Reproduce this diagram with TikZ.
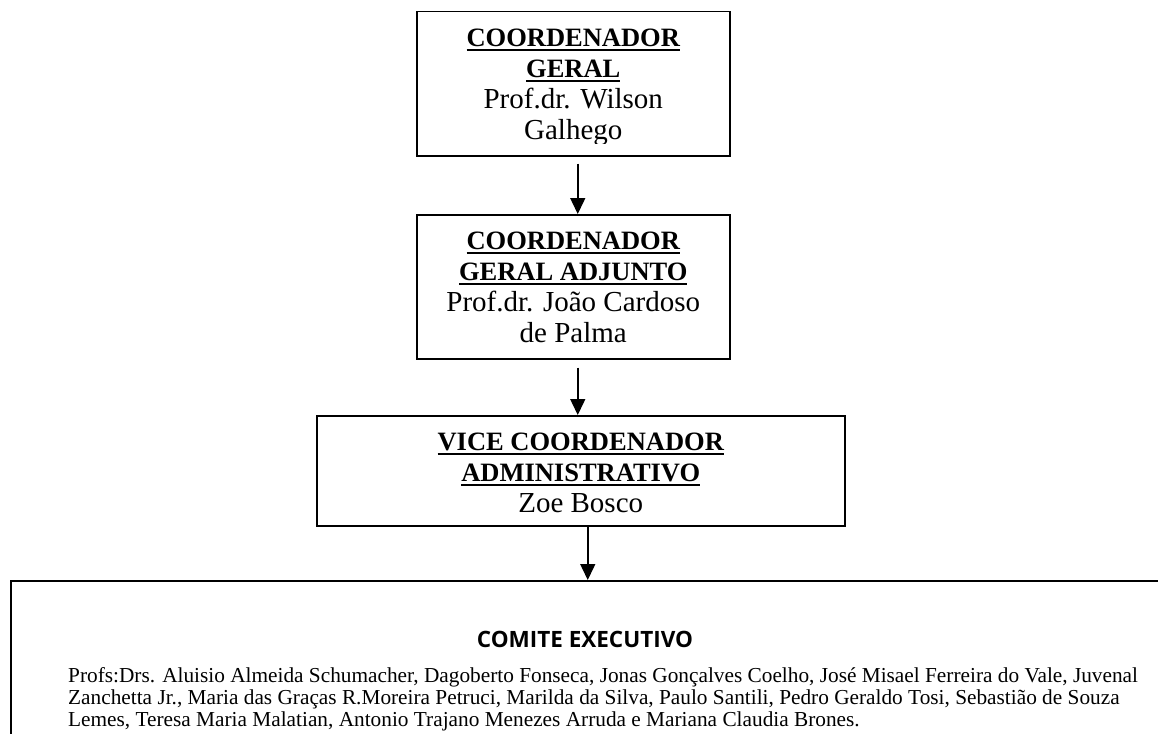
\documentclass[tikz,border=0pt]{standalone}
\usepackage{fontspec}
\setmainfont{Liberation Serif}
\newfontfamily\comitefont{Open Sans}
\usetikzlibrary{arrows.meta,positioning}

% underlined title line
\newcommand{\titleline}[1]{\setbox0\hbox{#1}\rlap{\rule[-4pt]{\wd0}{1.7pt}}\box0}

\tikzset{
  orgbox/.style={draw, line width=1.5pt, inner sep=0pt, anchor=north west},
  orgtext/.style={align=center, inner sep=0pt, font=\fontsize{29}{31}\selectfont},
  flow/.style={line width=1.5pt, -{Triangle[length=16pt,width=15pt]}},
}

\begin{document}
\begin{tikzpicture}[x=1pt,y=-1pt]
\useasboundingbox (0,0) rectangle (1158,733);
\clip (0,0) rectangle (1158,733);

% boxes
\node[orgbox, minimum width=313pt, minimum height=144pt] (geral) at (416,11) {};
\node[orgbox, minimum width=313pt, minimum height=144pt] (adjunto) at (416,214) {};
\node[orgbox, minimum width=528pt, minimum height=110pt] (vice) at (316,415) {};
\node[orgbox, minimum width=1300pt, minimum height=300pt] (comite) at (10,580) {};

% box texts
\begin{scope}
\clip (geral.north west) rectangle ([yshift=13pt]geral.south east);
\node[orgtext, below=18pt of geral.north] (geraltext)
  {\titleline{\bfseries\fontsize{26.5}{31}\selectfont COORDENADOR}\\
   \titleline{\bfseries\fontsize{26.5}{31}\selectfont GERAL}\\
   Prof.dr. Wilson\\ Galhego};
\end{scope}
\node[orgtext, below=18pt of adjunto.north] (adjuntotext)
  {\titleline{\bfseries\fontsize{26.5}{31}\selectfont COORDENADOR}\\
   \titleline{\bfseries\fontsize{26.5}{31}\selectfont GERAL ADJUNTO}\\
   Prof.dr. João Cardoso\\ de Palma};
\node[orgtext, below=18pt of vice.north] (vicetext)
  {\titleline{\bfseries\fontsize{26.5}{31}\selectfont VICE COORDENADOR}\\
   \titleline{\bfseries\fontsize{26.5}{31}\selectfont ADMINISTRATIVO}\\
   Zoe Bosco};

\node[anchor=base, inner sep=0pt, font=\comitefont\bfseries\fontsize{22.5}{26}\selectfont] (comitetitle) at (585,647) {COMITE EXECUTIVO};
\node[align=left, anchor=north west, inner sep=0pt, font=\fontsize{21.3}{22}\selectfont] (membros) at (68,667)
  {Profs:Drs. Aluisio Almeida Schumacher, Dagoberto Fonseca, Jonas Gonçalves Coelho, José Misael Ferreira do Vale, Juvenal\\
   Zanchetta Jr., Maria das Graças R.Moreira Petruci, Marilda da Silva, Paulo Santili, Pedro Geraldo Tosi, Sebastião de Souza\\
   Lemes, Teresa Maria Malatian, Antonio Trajano Menezes Arruda e Mariana Claudia Brones.};

% connectors
\draw[flow] ([xshift=4.5pt,yshift=-7pt]geral.south) -- ([xshift=4.5pt]geral.south |- adjunto.north);
\draw[flow] ([xshift=4.5pt,yshift=-8pt]adjunto.south) -- ([xshift=4.5pt]adjunto.south |- vice.north);
\draw[flow] ([xshift=7pt]vice.south) -- ([xshift=7pt]vice.south |- comite.north);
\end{tikzpicture}
\end{document}
